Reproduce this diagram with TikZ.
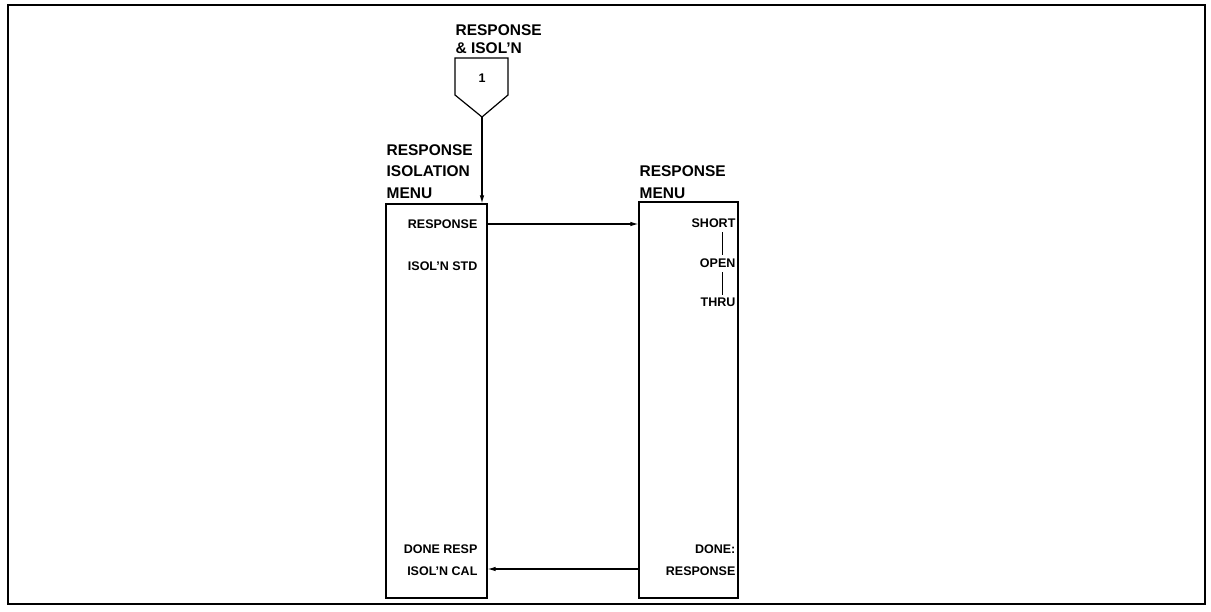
\documentclass[tikz,border=0pt]{standalone}
\usepackage{fontspec}
\setmainfont{Liberation Sans}
\usetikzlibrary{arrows.meta}
\begin{document}
\begin{tikzpicture}[x=1pt,y=-1pt,
  line width=1.2pt,
  title/.style={font=\bfseries\fontsize{15.5}{20}\selectfont, anchor=west, inner sep=0pt, align=left},
  item/.style={font=\bfseries\fontsize{12.5}{21}\selectfont, anchor=east, inner sep=0pt, align=right},
  menubox/.style={draw, line width=1.2pt},
  arr/.style={-{Latex[length=8pt,width=4.5pt]}, line width=1.1pt}]
\useasboundingbox (0,0) rectangle (1211,611);
\draw[line width=1.6pt] (8,5) rectangle (1205,604);
% connector pentagon
\draw[line width=1.2pt] (455,58) -- (508,58) -- (508,95) -- (482,117) -- (455,95) -- cycle;
\coordinate (pent) at (482,117);
\node[font=\bfseries\fontsize{12.5}{14}\selectfont, inner sep=0pt] (one) at (482,78) {1};
\node[title] (toplbl) at (455,30) {RESPONSE};
\node[title] (toplbl2) at (455,48) {\& ISOL'N};
% boxes
\node[menubox, minimum width=101pt, minimum height=394pt, inner sep=0pt] (L) at (436.5,401) {};
\node[menubox, minimum width=99pt, minimum height=396pt, inner sep=0pt] (R) at (688.5,400) {};
% titles
\node[title] (Lt1) at (386,150) {RESPONSE};
\node[title] (Lt2) at (386,171.5) {ISOLATION};
\node[title] (Lt3) at (386,193) {MENU};
\node[title] (Rt1) at (639,171.5) {RESPONSE};
\node[title] (Rt2) at (639,193) {MENU};
% left items
\node[item] (Lresp) at (478,224) {RESPONSE};
\node[item] (Lstd) at (478,266) {ISOL'N STD};
\node[item] (Ldone) at (478,549) {DONE RESP};
\node[item] (Lcal) at (478,571) {ISOL'N CAL};
% right items
\node[item] (Rshort) at (736,223) {SHORT};
\node[item] (Ropen) at (736,263) {OPEN};
\node[item] (Rthru) at (736,302) {THRU};
\node[item] (Rdone) at (736,549) {DONE:};
\node[item] (Rresp) at (736,571) {RESPONSE};
\draw[line width=0.9pt] (722,232) -- (722,255);
\draw[line width=0.9pt] (722,272) -- (722,295);
% arrows
\draw[arr] (pent) -- (L.north -| pent);
\draw[arr] (L.east |- Lresp) -- (R.west |- Lresp);
\draw[arr] (R.west |- 0,569) -- (L.east |- 0,569);
\end{tikzpicture}
\end{document}
